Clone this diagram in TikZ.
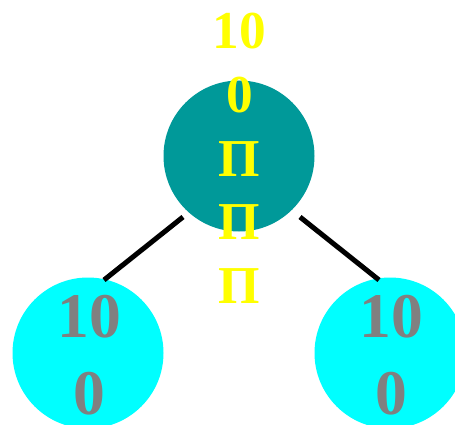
\documentclass[tikz,border=0pt]{standalone}
\usepackage{fontspec}
\setmainfont{Liberation Serif}
\definecolor{teal}{HTML}{009999}
\definecolor{aqua}{HTML}{00FFFF}
\definecolor{yel}{HTML}{FFFF00}
\definecolor{gry}{HTML}{808080}
\begin{document}
\begin{tikzpicture}[x=1pt,y=-1pt,
  ball/.style={circle,minimum size=151pt,inner sep=0pt,outer sep=0pt},
  toptext/.style={text=yel,align=center,inner sep=0pt,font=\fontsize{53.3}{63.7}\selectfont\bfseries},
  lowtext/.style={text=gry,align=center,inner sep=0pt,font=\fontsize{63.6}{77}\selectfont\bfseries},
  edge/.style={line width=5pt}]
\useasboundingbox (0,0) rectangle (455,425);
\node[ball,fill=teal] (top) at (239,156) {};
\node[ball,fill=aqua] (left) at (88,353) {};
\node[ball,fill=aqua] (right) at (390,353) {};
\node[toptext] (toplbl) at (239.5,158.5) {10\\0\\П\\П\\П};
\node[lowtext] (leftlbl) at (89,355) {10\\0};
\node[lowtext] (rightlbl) at (391,355) {10\\0};
\coordinate (tl) at (183,217);
\coordinate (lt) at (104,280);
\coordinate (tr) at (300,217);
\coordinate (rt) at (379,280);
\draw[edge] (tl) -- (lt);
\draw[edge] (tr) -- (rt);
\end{tikzpicture}
\end{document}
